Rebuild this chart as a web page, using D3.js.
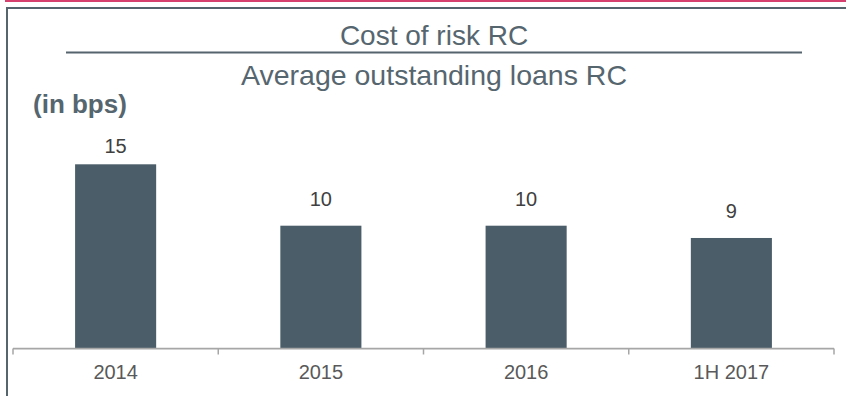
<!DOCTYPE html>
<html>
<head>
<meta charset="utf-8">
<script src="https://cdn.jsdelivr.net/npm/d3@7/dist/d3.min.js"></script>
<style>
  html, body { margin: 0; padding: 0; background: #ffffff; }
  svg { display: block; font-family: "Liberation Sans", Arial, sans-serif; }
</style>
</head>
<body>
<svg id="chart" width="846" height="396"></svg>
<script>
// Cost of risk, in basis points
const categories = ["2014", "2015", "2016", "1H 2017"];
const values = [15, 10, 10, 9];
const titleTop = "Cost of risk RC";
const titleBottom = "Average outstanding loans RC";
const unitLabel = "(in bps)";

const W = 846, H = 396;
const svg = d3.select("#chart");

// accent rule and frame
svg.append("line").attr("x1", 5).attr("x2", W).attr("y1", 1).attr("y2", 1)
  .attr("stroke", "#d6406f").attr("stroke-width", 2);
svg.append("path")
  .attr("d", `M7,${H} L7,8 L${W},8`)
  .attr("fill", "none").attr("stroke", "#56646e").attr("stroke-width", 2);

// ratio-style heading: numerator over denominator
svg.append("text").attr("x", 434).attr("y", 45).attr("text-anchor", "middle")
  .attr("font-size", 28).attr("fill", "#56666f").text(titleTop);
svg.append("line").attr("x1", 66).attr("x2", 802).attr("y1", 52.5).attr("y2", 52.5)
  .attr("stroke", "#56646e").attr("stroke-width", 2);
svg.append("text").attr("x", 434).attr("y", 85).attr("text-anchor", "middle")
  .attr("font-size", 28.5).attr("fill", "#56666f").text(titleBottom);

svg.append("text").attr("x", 33).attr("y", 113)
  .attr("font-size", 26).attr("font-weight", "bold").attr("fill", "#56666f").text(unitLabel);

// scales
const x = d3.scaleBand().domain(categories).range([13, 834]).padding(0);
const y = d3.scaleLinear().domain([0, 15]).range([348.5, 164.3]);
const barFrac = 0.395;
const bw = x.bandwidth() * barFrac;
const bx = c => x(c) + (x.bandwidth() - bw) / 2;
const labelTop = 153; // value labels stay inside the plot area

const data = categories.map((c, i) => ({ c, v: values[i] }));

svg.append("g").selectAll("rect").data(data).join("rect")
  .attr("x", d => bx(d.c))
  .attr("width", bw)
  .attr("y", d => y(d.v))
  .attr("height", d => y(0) - y(d.v))
  .attr("fill", "#4a5d69");

svg.append("g").selectAll("text").data(data).join("text")
  .attr("x", d => bx(d.c) + bw / 2)
  .attr("y", d => Math.max(y(d.v) - 20, labelTop))
  .attr("text-anchor", "middle")
  .attr("font-size", 20)
  .attr("fill", "#404040")
  .text(d => d.v);

// category axis with ticks at band boundaries
const axisG = svg.append("g").attr("transform", `translate(0,${y(0)})`)
  .call(d3.axisBottom(x).tickSize(0).tickPadding(0));
axisG.select(".domain").remove();
axisG.selectAll("text")
  .attr("font-size", 20).attr("fill", "#595959")
  .attr("font-family", "Liberation Sans, Arial, sans-serif")
  .attr("dy", null).attr("y", 30);

const edges = categories.map(c => x(c)).concat([x(categories[categories.length - 1]) + x.bandwidth()]);
axisG.append("line").attr("x1", edges[0]).attr("x2", edges[edges.length - 1])
  .attr("y1", 0).attr("y2", 0).attr("stroke", "#a6a6a6").attr("stroke-width", 1.75);
axisG.selectAll(".edge").data(edges).join("line").attr("class", "edge")
  .attr("x1", d => d).attr("x2", d => d).attr("y1", 0).attr("y2", 6)
  .attr("stroke", "#a6a6a6").attr("stroke-width", 1.5);
</script>
</body>
</html>
